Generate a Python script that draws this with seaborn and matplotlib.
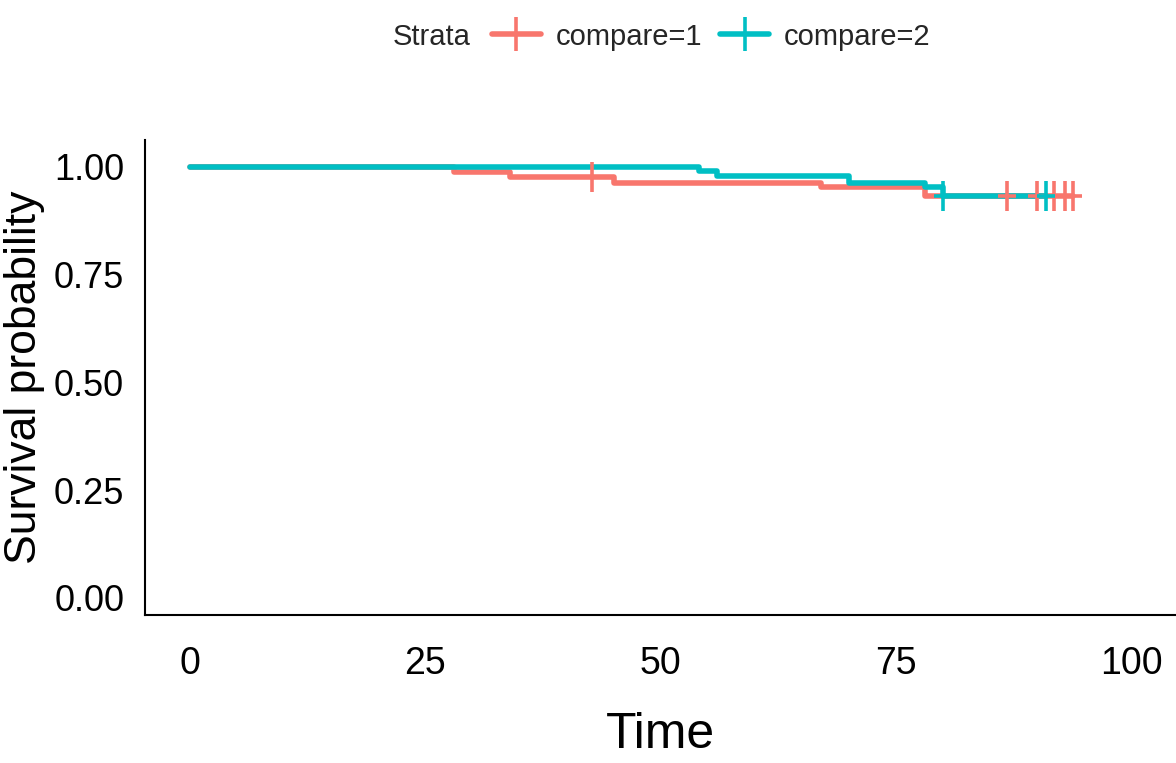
import pandas as pd
import matplotlib
matplotlib.use("Agg")
import matplotlib.pyplot as plt
from matplotlib.lines import Line2D
from matplotlib.path import Path
import seaborn as sns

# Kaplan-Meier step data
time_1 = [0, 28, 34, 45, 67, 78, 93.8]
surv_1 = [1.0, 0.989, 0.977, 0.962, 0.954, 0.933, 0.933]
cens_time_1 = [42.7, 86.8, 89.9, 91.7, 92.9, 93.8]
cens_surv_1 = [0.977, 0.933, 0.933, 0.933, 0.933, 0.933]

time_2 = [0, 54, 56, 70, 78, 80, 90.9]
surv_2 = [1.0, 0.991, 0.979, 0.962, 0.954, 0.933, 0.933]
cens_time_2 = [80, 90.9]
cens_surv_2 = [0.933, 0.933]

strata = ["compare=1", "compare=2"]
palette = {"compare=1": "#F8766D", "compare=2": "#00BFC4"}
x_ticks = [0, 25, 50, 75, 100]
y_ticks = [0.0, 0.25, 0.5, 0.75, 1.0]

curves = pd.concat([
    pd.DataFrame({"time": time_1, "surv": surv_1, "strata": strata[0]}),
    pd.DataFrame({"time": time_2, "surv": surv_2, "strata": strata[1]}),
])
censors = pd.concat([
    pd.DataFrame({"time": cens_time_1, "surv": cens_surv_1, "strata": strata[0]}),
    pd.DataFrame({"time": cens_time_2, "surv": cens_surv_2, "strata": strata[1]}),
])

sns.set_style("white")
plt.rcParams["font.family"] = ["Liberation Sans", "DejaVu Sans"]

# tall "+" like the censoring marks of the reference
cross = Path([(-0.6, 0), (0.6, 0), (0, -1), (0, 1)],
             [Path.MOVETO, Path.LINETO, Path.MOVETO, Path.LINETO])

fig = plt.figure(figsize=(11.76, 7.63), dpi=100)
ax = fig.add_axes([0.1233, 0.194, 0.8767, 0.6225])

for s in strata:
    d = curves[curves["strata"] == s]
    sns.lineplot(data=d, x="time", y="surv", color=palette[s], linewidth=4,
                 drawstyle="steps-post", estimator=None, sort=False, ax=ax,
                 legend=False)
for s in strata:
    c = censors[censors["strata"] == s]
    sns.scatterplot(data=c, x="time", y="surv", marker=cross, s=480,
                    color=palette[s], edgecolor=palette[s], linewidth=2.6,
                    ax=ax, legend=False, zorder=3)

ax.set_xlim(-4.78, 104.7)
ax.set_ylim(-0.0394, 1.0626)
ax.set_xticks(x_ticks)
ax.set_xticklabels([str(t) for t in x_ticks], fontsize=27)
ax.set_yticks(y_ticks)
ax.set_yticklabels([f"{t:.2f}" for t in y_ticks], fontsize=26)
ax.tick_params(direction="out", length=9, width=1.5, colors="black", pad=6)
ax.tick_params(axis="x", pad=13)
for side in ["top", "right"]:
    ax.spines[side].set_visible(False)
for side in ["left", "bottom"]:
    ax.spines[side].set_color("black")
    ax.spines[side].set_linewidth(1.5)

ax.set_xlabel("Time", fontsize=36, color="black")
ax.xaxis.set_label_coords(0.5, -0.205)
ax.set_ylabel("Survival probability", fontsize=32, color="black")
ax.yaxis.set_label_coords(-0.097, 0.5)

handles = [Line2D([], [], color=palette[s], linewidth=4, marker=cross,
                  markersize=24, markeredgewidth=2.6) for s in strata]
fig.text(0.40, 0.952, "Strata", fontsize=21, ha="right", va="center")
fig.legend(handles, strata, loc="center left", bbox_to_anchor=(0.418, 0.952),
           ncol=2, frameon=False, prop={"size": 21},
           handlelength=1.7, columnspacing=0.6, handletextpad=0.5,
           borderpad=0, borderaxespad=0)

fig.savefig("out.png", dpi=100)
